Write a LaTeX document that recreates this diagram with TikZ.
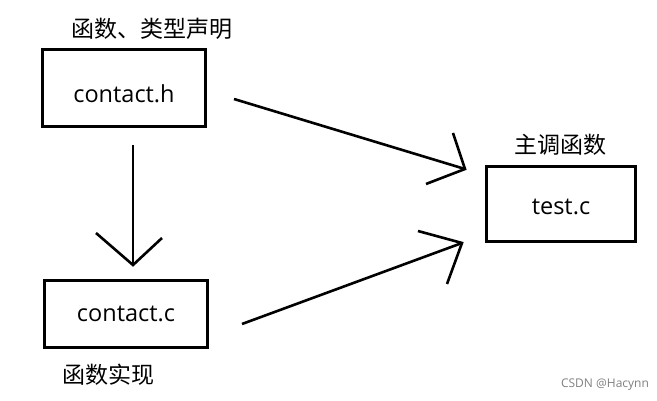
\documentclass[tikz,border=0pt]{standalone}
\usepackage{fontspec}
\setmainfont{Open Sans}
\newfontfamily\cjk{Noto Sans CJK SC}
\begin{document}
\begin{tikzpicture}[x=1pt,y=-1pt,
  filebox/.style={draw=black,line width=3pt,inner sep=0pt,font=\fontsize{23.5}{26}\selectfont},
  cnlabel/.style={font=\cjk\fontsize{23}{26}\selectfont,inner sep=0pt},
  conn/.style={line width=2.6pt,line join=miter},
  wm/.style={font=\fontsize{12}{14}\selectfont,text=black!50,inner sep=0pt}]
\useasboundingbox[fill=white] (0,0) rectangle (657,401);
% boxes
\node[filebox,minimum width=163pt,minimum height=77pt] (h) at (124,88) {\raisebox{-6pt}[\height][\depth]{contact.h}};
\node[filebox,minimum width=163pt,minimum height=67pt] (c) at (126,314) {contact.c};
\node[filebox,minimum width=149pt,minimum height=75pt] (t) at (561,204) {\raisebox{-3pt}[\height][\depth]{test.c}};
% labels
\node[cnlabel] (lh) at (152,29) {函数、类型声明};
\node[cnlabel] (lc) at (109,375) {函数实现};
\node[cnlabel] (lt) at (560,145) {主调函数};
% arrow h -> c
\coordinate (a1s) at (133,145);
\coordinate (a1t) at (133,265);
\coordinate (a1l) at (96,233);
\coordinate (a1r) at (162,238);
\draw[conn] (a1s) -- (a1t);
\draw[conn] (a1l) -- (a1t) -- (a1r);
% arrow h -> t
\coordinate (a2s) at (234,99);
\coordinate (a2t) at (465,169);
\coordinate (a2u) at (453,133);
\coordinate (a2d) at (426,184);
\draw[conn] (a2s) -- (a2t);
\draw[conn] (a2u) -- (a2t) -- (a2d);
% arrow c -> t
\coordinate (a3s) at (242,324);
\coordinate (a3t) at (462,243);
\coordinate (a3u) at (418,231);
\coordinate (a3d) at (447,284);
\draw[conn] (a3s) -- (a3t);
\draw[conn] (a3u) -- (a3t) -- (a3d);
% watermark
\node[wm] (w) at (605,385) {CSDN @Hacynn};
\end{tikzpicture}
\end{document}
